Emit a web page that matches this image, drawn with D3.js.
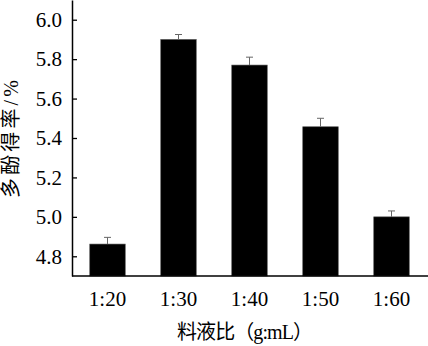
<!DOCTYPE html>
<html>
<head>
<meta charset="utf-8">
<script src="https://cdn.jsdelivr.net/npm/d3@7"></script>
<style>
  body { margin: 0; background: #fff; }
  text { font-family: "Liberation Serif", "Times New Roman", "Noto Sans CJK SC", serif; }
</style>
</head>
<body>
<div id="chart"></div>
<script>
    const ratios = ["1:20", "1:30", "1:40", "1:50", "1:60"];
    const yields = [4.862, 5.90, 5.77, 5.457, 5.0];
    const errors = [0.034, 0.025, 0.04, 0.043, 0.03];
    const yTicks = [4.8, 5.0, 5.2, 5.4, 5.6, 5.8, 6.0];

    const width = 428,
        height = 346;
    const plotLeft = 72, plotRight = 427, plotTop = 0, plotBottom = 276;

    const svg = d3.select("#chart")
        .append("svg")
        .attr("width", width)
        .attr("height", height);

    const x = d3.scaleBand()
        .domain(ratios)
        .range([plotLeft, plotRight])
        .paddingInner(0.5)
        .paddingOuter(0.25);

    const y = d3.scaleLinear()
        .domain([4.7, 6.1])
        .range([plotBottom, plotTop]);

    // bars
    svg.selectAll(".bar")
        .data(ratios)
        .join("rect")
        .attr("class", "bar")
        .attr("x", d => x(d))
        .attr("width", x.bandwidth())
        .attr("y", (d, i) => y(yields[i]))
        .attr("height", (d, i) => plotBottom - y(yields[i]))
        .attr("fill", "#000")
        .attr("stroke", "#555")
        .attr("stroke-width", 0.6);

    // error bars, upward only
    const err = svg.selectAll(".err")
        .data(ratios)
        .join("g")
        .attr("class", "err")
        .attr("stroke", "#666")
        .attr("stroke-width", 1);
    err.append("line")
        .attr("x1", d => x(d) + x.bandwidth() / 2)
        .attr("x2", d => x(d) + x.bandwidth() / 2)
        .attr("y1", (d, i) => y(yields[i]))
        .attr("y2", (d, i) => y(yields[i] + errors[i]));
    err.append("line")
        .attr("x1", d => x(d) + x.bandwidth() / 2 - 3.5)
        .attr("x2", d => x(d) + x.bandwidth() / 2 + 3.5)
        .attr("y1", (d, i) => y(yields[i] + errors[i]))
        .attr("y2", (d, i) => y(yields[i] + errors[i]));

    // y axis, ticks pointing inward
    const yAxis = svg.append("g")
        .attr("transform", `translate(${plotLeft},0)`)
        .call(d3.axisLeft(y)
            .tickValues(yTicks)
            .tickFormat(d3.format(".1f"))
            .tickSize(-5)
            .tickSizeOuter(0)
            .tickPadding(10));
    yAxis.select(".domain").attr("stroke-width", 1.5);
    yAxis.selectAll(".tick line").attr("stroke-width", 1.3);
    yAxis.selectAll("text")
        .attr("font-size", 21)
        .attr("fill", "#000")
        .style("font-family", "'Liberation Serif', serif");

    // x axis
    const xAxis = svg.append("g")
        .attr("transform", `translate(0,${plotBottom})`)
        .call(d3.axisBottom(x)
            .tickSize(0)
            .tickSizeOuter(0)
            .tickPadding(15));
    xAxis.select(".domain")
        .attr("stroke-width", 1.5)
        .attr("d", `M${plotLeft},0H${width}`);
    xAxis.selectAll("text")
        .attr("font-size", 21)
        .attr("fill", "#000")
        .style("font-family", "'Liberation Serif', serif");

    // axis titles
    svg.append("text")
        .text("料液比（g:mL）")
        .attr("x", 177)
        .attr("y", 339)
        .attr("text-anchor", "start")
        .attr("textLength", 136)
        .attr("font-size", 20);

    svg.append("text")
        .text("多酚得率/%")
        .attr("transform", "translate(18,198) rotate(-90)")
        .attr("text-anchor", "start")
        .attr("textLength", 118)
        .attr("font-size", 20);
</script>
</body>
</html>
